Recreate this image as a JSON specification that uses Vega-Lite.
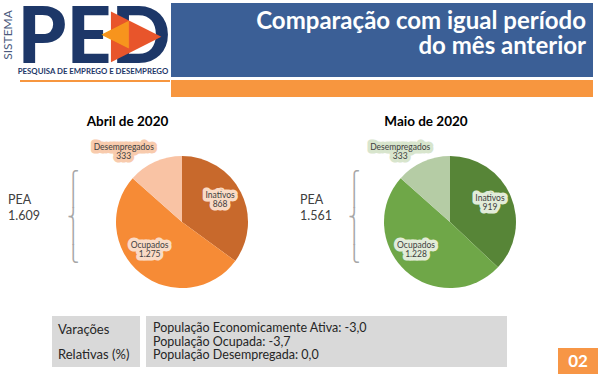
{
  "$schema": "https://vega.github.io/schema/vega-lite/v6.json",
  "padding": 0,
  "background": "#ffffff",
  "spacing": 0,
  "config": {
    "view": {"stroke": null},
    "font": "Lato",
    "text": {"font": "Lato"},
    "locale": {"number": {"decimal": ",", "thousands": ".", "grouping": [3], "currency": ["R$", ""]}},
    "concat": {"spacing": 0}
  },
  "datasets": {
    "pizza": [
      {"mes": "Abril de 2020", "categoria": "Inativos", "valor": 868, "ordem": 1},
      {"mes": "Abril de 2020", "categoria": "Ocupados", "valor": 1275, "ordem": 2},
      {"mes": "Abril de 2020", "categoria": "Desempregados", "valor": 333, "ordem": 3},
      {"mes": "Maio de 2020", "categoria": "Inativos", "valor": 919, "ordem": 1},
      {"mes": "Maio de 2020", "categoria": "Ocupados", "valor": 1228, "ordem": 2},
      {"mes": "Maio de 2020", "categoria": "Desempregados", "valor": 333, "ordem": 3}
    ],
    "pea": [
      {"mes": "Abril de 2020", "pea": 1609},
      {"mes": "Maio de 2020", "pea": 1561}
    ],
    "variacoes": [
      {"linha": "População Economicamente Ativa: -3,0", "variacao": -3.0},
      {"linha": "População Ocupada: -3,7", "variacao": -3.7},
      {"linha": "População Desempregada:  0,0", "variacao": 0.0}
    ],
    "vazio": []
  },
  "vconcat": [
    {
      "hconcat": [
        {
          "vconcat": [
            {
              "width": 170, "height": 78,
              "data": {"values": [{}]},
              "layer": [
                {"mark": {"type": "text", "text": "PED", "font": "Lato", "fontWeight": 900, "fontSize": 78, "color": "#1D3768", "baseline": "alphabetic", "dx": 9, "dy": 23.5}},
                {"mark": {"type": "text", "text": "▶", "font": "DejaVu Sans", "fontSize": 66, "color": "#E8552B", "dx": 51, "dy": -5}},
                {"mark": {"type": "text", "text": "◀", "font": "DejaVu Sans", "fontSize": 36, "color": "#F7941D", "dx": 30, "dy": -6}},
                {"mark": {"type": "text", "text": "SISTEMA", "angle": 270, "fontSize": 12, "color": "#4A5A7D", "dx": 4, "dy": -77}},
                {"mark": {"type": "text", "text": "PESQUISA DE EMPREGO E DESEMPREGO", "fontSize": 7.8, "fontWeight": "bold", "color": "#1D3768", "dx": 8, "dy": 33}}
              ]
            },
            {
              "hconcat": [
                {"width": 20, "height": 2, "data": {"name": "vazio"}, "mark": {"type": "text"}, "encoding": {}},
                {"width": 150, "height": 2, "view": {"fill": "#F7963F", "stroke": null}, "data": {"name": "vazio"}, "mark": {"type": "text"}, "encoding": {}}
              ],
              "spacing": 0
            }
          ],
          "spacing": 1
        },
        {
          "vconcat": [
            {
              "vconcat": [
                {"width": 422, "height": 1, "data": {"name": "vazio"}, "mark": {"type": "text"}, "encoding": {}},
                {
                  "width": 422, "height": 74,
                  "view": {"fill": "#3B5F96", "stroke": null},
                  "data": {"values": [{}]},
                  "mark": {"type": "text", "text": ["Comparação com igual período", "do mês anterior"], "align": "right", "fontSize": 24, "fontWeight": "bold", "color": "#ffffff", "lineHeight": 25, "dx": 204, "dy": -18}
                }
              ],
              "spacing": 2
            },
            {
              "width": 422, "height": 17,
              "view": {"fill": "#F7963F", "stroke": null},
              "data": {"name": "vazio"},
              "mark": {"type": "text"},
              "encoding": {}
            }
          ],
          "spacing": 3
        }
      ],
      "spacing": 0
    },
    {
      "hconcat": [
        {
          "width": 80, "height": 219,
          "data": {"name": "pea"},
          "transform": [{"filter": "datum.mes === 'Abril de 2020'"}],
          "layer": [
            {"mark": {"type": "text", "text": "PEA", "align": "left", "fontSize": 12.5, "color": "#404040", "dx": -32, "dy": -6.5}},
            {"mark": {"type": "text", "align": "left", "fontSize": 12.5, "color": "#404040", "dx": -32, "dy": 9.5}, "encoding": {"text": {"field": "pea", "type": "quantitative", "format": ",d"}}},
            {"mark": {"type": "text", "text": ["⎧", "⎪", "⎨", "⎪", "⎩"], "font": "DejaVu Sans", "fontSize": 16, "lineHeight": 18.6, "color": "#A6A6A6", "dx": 33, "dy": -26.5}}
          ]
        },
        {
          "vconcat": [
            {
              "width": 204, "height": 40,
              "data": {"values": [{"mes": "Abril de 2020"}]},
              "mark": {"type": "text", "fontSize": 13.5, "fontWeight": "bold", "color": "#000000", "dx": -54.5, "dy": 5},
              "encoding": {"text": {"field": "mes", "type": "nominal"}}
            },
            {
              "width": 204, "height": 170,
              "data": {"name": "pizza"},
              "transform": [{"filter": "datum.mes === 'Abril de 2020'"}],
              "encoding": {
                "theta": {"field": "valor", "type": "quantitative", "stack": true},
                "order": {"field": "ordem", "type": "quantitative"}
              },
              "layer": [
                {"mark": {"type": "arc", "radius": 66}, "encoding": {"color": {"field": "categoria", "type": "nominal", "legend": null, "scale": {"domain": ["Inativos", "Ocupados", "Desempregados"], "range": ["#C8692C", "#F68B36", "#F9C3A4"]}}}},
                {"mark": {"type": "text", "radius": 42, "fontSize": 8.5, "fill": "#FADBC6", "stroke": "#FADBC6", "strokeWidth": 7, "strokeJoin": "round", "dx": 0.6, "dy": -8}, "encoding": {"detail": {"field": "categoria"}, "text": {"condition": {"test": "datum.categoria === 'Inativos'", "field": "categoria", "type": "nominal"}, "value": ""}}},
                {"mark": {"type": "text", "radius": 42, "fontSize": 8.5, "fill": "#FADBC6", "stroke": "#FADBC6", "strokeWidth": 7, "strokeJoin": "round", "dx": 0.6, "dy": 1}, "encoding": {"detail": {"field": "categoria"}, "text": {"condition": {"test": "datum.categoria === 'Inativos'", "field": "valor", "type": "quantitative", "format": ",d"}, "value": ""}}},
                {"mark": {"type": "text", "radius": 42, "fontSize": 8.5, "fill": "#FADBC6", "stroke": "#FADBC6", "strokeWidth": 7, "strokeJoin": "round", "dx": -6, "dy": -9.5}, "encoding": {"detail": {"field": "categoria"}, "text": {"condition": {"test": "datum.categoria === 'Ocupados'", "field": "categoria", "type": "nominal"}, "value": ""}}},
                {"mark": {"type": "text", "radius": 42, "fontSize": 8.5, "fill": "#FADBC6", "stroke": "#FADBC6", "strokeWidth": 7, "strokeJoin": "round", "dx": -6, "dy": -0.5}, "encoding": {"detail": {"field": "categoria"}, "text": {"condition": {"test": "datum.categoria === 'Ocupados'", "field": "valor", "type": "quantitative", "format": ",d"}, "value": ""}}},
                {"mark": {"type": "text", "radius": 85, "fontSize": 8.5, "fill": "#F8CBAD", "stroke": "#F8CBAD", "strokeWidth": 7, "strokeJoin": "round", "dx": -23.4, "dy": 2.2}, "encoding": {"detail": {"field": "categoria"}, "text": {"condition": {"test": "datum.categoria === 'Desempregados'", "field": "categoria", "type": "nominal"}, "value": ""}}},
                {"mark": {"type": "text", "radius": 85, "fontSize": 8.5, "fill": "#F8CBAD", "stroke": "#F8CBAD", "strokeWidth": 7, "strokeJoin": "round", "dx": -23.4, "dy": 11.2}, "encoding": {"detail": {"field": "categoria"}, "text": {"condition": {"test": "datum.categoria === 'Desempregados'", "field": "valor", "type": "quantitative", "format": ",d"}, "value": ""}}},
                {"mark": {"type": "text", "radius": 42, "fontSize": 8.5, "color": "#404040", "dx": 0.6, "dy": -8}, "encoding": {"detail": {"field": "categoria"}, "text": {"condition": {"test": "datum.categoria === 'Inativos'", "field": "categoria", "type": "nominal"}, "value": ""}}},
                {"mark": {"type": "text", "radius": 42, "fontSize": 8.5, "color": "#404040", "dx": 0.6, "dy": 1}, "encoding": {"detail": {"field": "categoria"}, "text": {"condition": {"test": "datum.categoria === 'Inativos'", "field": "valor", "type": "quantitative", "format": ",d"}, "value": ""}}},
                {"mark": {"type": "text", "radius": 42, "fontSize": 8.5, "color": "#404040", "dx": -6, "dy": -9.5}, "encoding": {"detail": {"field": "categoria"}, "text": {"condition": {"test": "datum.categoria === 'Ocupados'", "field": "categoria", "type": "nominal"}, "value": ""}}},
                {"mark": {"type": "text", "radius": 42, "fontSize": 8.5, "color": "#404040", "dx": -6, "dy": -0.5}, "encoding": {"detail": {"field": "categoria"}, "text": {"condition": {"test": "datum.categoria === 'Ocupados'", "field": "valor", "type": "quantitative", "format": ",d"}, "value": ""}}},
                {"mark": {"type": "text", "radius": 85, "fontSize": 8.5, "color": "#404040", "dx": -23.4, "dy": 2.2}, "encoding": {"detail": {"field": "categoria"}, "text": {"condition": {"test": "datum.categoria === 'Desempregados'", "field": "categoria", "type": "nominal"}, "value": ""}}},
                {"mark": {"type": "text", "radius": 85, "fontSize": 8.5, "color": "#404040", "dx": -23.4, "dy": 11.2}, "encoding": {"detail": {"field": "categoria"}, "text": {"condition": {"test": "datum.categoria === 'Desempregados'", "field": "valor", "type": "quantitative", "format": ",d"}, "value": ""}}}
              ]
            }
          ],
          "spacing": 0
        },
        {
          "width": 84, "height": 219,
          "data": {"name": "pea"},
          "transform": [{"filter": "datum.mes === 'Maio de 2020'"}],
          "layer": [
            {"mark": {"type": "text", "text": "PEA", "align": "left", "fontSize": 12.5, "color": "#404040", "dx": -26, "dy": -6.5}},
            {"mark": {"type": "text", "align": "left", "fontSize": 12.5, "color": "#404040", "dx": -26, "dy": 9.5}, "encoding": {"text": {"field": "pea", "type": "quantitative", "format": ",d"}}},
            {"mark": {"type": "text", "text": ["⎧", "⎪", "⎨", "⎪", "⎩"], "font": "DejaVu Sans", "fontSize": 16, "lineHeight": 18.6, "color": "#A6A6A6", "dx": 28, "dy": -26.5}}
          ]
        },
        {
          "vconcat": [
            {
              "width": 164, "height": 40,
              "data": {"values": [{"mes": "Maio de 2020"}]},
              "mark": {"type": "text", "fontSize": 13.5, "fontWeight": "bold", "color": "#000000", "dx": -24, "dy": 5},
              "encoding": {"text": {"field": "mes", "type": "nominal"}}
            },
            {
              "width": 164, "height": 170,
              "data": {"name": "pizza"},
              "transform": [{"filter": "datum.mes === 'Maio de 2020'"}],
              "encoding": {
                "theta": {"field": "valor", "type": "quantitative", "stack": true},
                "order": {"field": "ordem", "type": "quantitative"}
              },
              "layer": [
                {"mark": {"type": "arc", "radius": 66}, "encoding": {"color": {"field": "categoria", "type": "nominal", "legend": null, "scale": {"domain": ["Inativos", "Ocupados", "Desempregados"], "range": ["#578537", "#6FA748", "#B5CCA5"]}}}},
                {"mark": {"type": "text", "radius": 42, "fontSize": 8.5, "fill": "#E2ECD9", "stroke": "#E2ECD9", "strokeWidth": 7, "strokeJoin": "round", "dx": 1.4, "dy": -7.5}, "encoding": {"detail": {"field": "categoria"}, "text": {"condition": {"test": "datum.categoria === 'Inativos'", "field": "categoria", "type": "nominal"}, "value": ""}}},
                {"mark": {"type": "text", "radius": 42, "fontSize": 8.5, "fill": "#E2ECD9", "stroke": "#E2ECD9", "strokeWidth": 7, "strokeJoin": "round", "dx": 1.4, "dy": 1.5}, "encoding": {"detail": {"field": "categoria"}, "text": {"condition": {"test": "datum.categoria === 'Inativos'", "field": "valor", "type": "quantitative", "format": ",d"}, "value": ""}}},
                {"mark": {"type": "text", "radius": 42, "fontSize": 8.5, "fill": "#E2ECD9", "stroke": "#E2ECD9", "strokeWidth": 7, "strokeJoin": "round", "dx": -5.6, "dy": -7.5}, "encoding": {"detail": {"field": "categoria"}, "text": {"condition": {"test": "datum.categoria === 'Ocupados'", "field": "categoria", "type": "nominal"}, "value": ""}}},
                {"mark": {"type": "text", "radius": 42, "fontSize": 8.5, "fill": "#E2ECD9", "stroke": "#E2ECD9", "strokeWidth": 7, "strokeJoin": "round", "dx": -5.6, "dy": 1.5}, "encoding": {"detail": {"field": "categoria"}, "text": {"condition": {"test": "datum.categoria === 'Ocupados'", "field": "valor", "type": "quantitative", "format": ",d"}, "value": ""}}},
                {"mark": {"type": "text", "radius": 85, "fontSize": 8.5, "fill": "#D8E5CD", "stroke": "#D8E5CD", "strokeWidth": 7, "strokeJoin": "round", "dx": -15, "dy": 2.5}, "encoding": {"detail": {"field": "categoria"}, "text": {"condition": {"test": "datum.categoria === 'Desempregados'", "field": "categoria", "type": "nominal"}, "value": ""}}},
                {"mark": {"type": "text", "radius": 85, "fontSize": 8.5, "fill": "#D8E5CD", "stroke": "#D8E5CD", "strokeWidth": 7, "strokeJoin": "round", "dx": -15, "dy": 11.5}, "encoding": {"detail": {"field": "categoria"}, "text": {"condition": {"test": "datum.categoria === 'Desempregados'", "field": "valor", "type": "quantitative", "format": ",d"}, "value": ""}}},
                {"mark": {"type": "text", "radius": 42, "fontSize": 8.5, "color": "#404040", "dx": 1.4, "dy": -7.5}, "encoding": {"detail": {"field": "categoria"}, "text": {"condition": {"test": "datum.categoria === 'Inativos'", "field": "categoria", "type": "nominal"}, "value": ""}}},
                {"mark": {"type": "text", "radius": 42, "fontSize": 8.5, "color": "#404040", "dx": 1.4, "dy": 1.5}, "encoding": {"detail": {"field": "categoria"}, "text": {"condition": {"test": "datum.categoria === 'Inativos'", "field": "valor", "type": "quantitative", "format": ",d"}, "value": ""}}},
                {"mark": {"type": "text", "radius": 42, "fontSize": 8.5, "color": "#404040", "dx": -5.6, "dy": -7.5}, "encoding": {"detail": {"field": "categoria"}, "text": {"condition": {"test": "datum.categoria === 'Ocupados'", "field": "categoria", "type": "nominal"}, "value": ""}}},
                {"mark": {"type": "text", "radius": 42, "fontSize": 8.5, "color": "#404040", "dx": -5.6, "dy": 1.5}, "encoding": {"detail": {"field": "categoria"}, "text": {"condition": {"test": "datum.categoria === 'Ocupados'", "field": "valor", "type": "quantitative", "format": ",d"}, "value": ""}}},
                {"mark": {"type": "text", "radius": 85, "fontSize": 8.5, "color": "#404040", "dx": -15, "dy": 2.5}, "encoding": {"detail": {"field": "categoria"}, "text": {"condition": {"test": "datum.categoria === 'Desempregados'", "field": "categoria", "type": "nominal"}, "value": ""}}},
                {"mark": {"type": "text", "radius": 85, "fontSize": 8.5, "color": "#404040", "dx": -15, "dy": 11.5}, "encoding": {"detail": {"field": "categoria"}, "text": {"condition": {"test": "datum.categoria === 'Desempregados'", "field": "valor", "type": "quantitative", "format": ",d"}, "value": ""}}}
              ]
            }
          ],
          "spacing": 0
        }
      ],
      "spacing": 0,
      "resolve": {"scale": {"color": "independent", "theta": "independent"}}
    },
    {
      "hconcat": [
        {"width": 52, "height": 51, "data": {"name": "vazio"}, "mark": {"type": "text"}, "encoding": {}},
        {
          "width": 88, "height": 51,
          "view": {"fill": "#D9D9D9", "stroke": null},
          "data": {"values": [{}]},
          "mark": {"type": "text", "text": ["Varações", "Relativas (%)"], "lineHeight": 25, "align": "left", "fontSize": 13, "color": "#262626", "dx": -38, "dy": -11.5}
        },
        {"width": 6, "height": 51, "data": {"name": "vazio"}, "mark": {"type": "text"}, "encoding": {}},
        {
          "width": 361, "height": 51,
          "view": {"fill": "#D9D9D9", "stroke": null},
          "data": {"name": "variacoes"},
          "mark": {"type": "text", "align": "left", "fontSize": 12.5, "color": "#262626", "dx": -173.5},
          "encoding": {
            "text": {"field": "linha", "type": "nominal"},
            "y": {"field": "linha", "type": "nominal", "sort": null, "axis": null, "scale": {"type": "point", "padding": 0.89}}
          }
        },
        {"width": 51, "height": 51, "data": {"name": "vazio"}, "mark": {"type": "text"}, "encoding": {}},
        {
          "vconcat": [
            {"width": 40, "height": 28, "data": {"name": "vazio"}, "mark": {"type": "text"}, "encoding": {}},
            {
              "width": 40, "height": 26,
              "view": {"fill": "#F79646", "stroke": null},
              "data": {"values": [{}]},
              "mark": {"type": "text", "text": "02", "fontSize": 17, "fontWeight": "bold", "color": "#ffffff", "dy": 1}
            }
          ],
          "spacing": 4
        }
      ],
      "spacing": 0
    }
  ]
}
